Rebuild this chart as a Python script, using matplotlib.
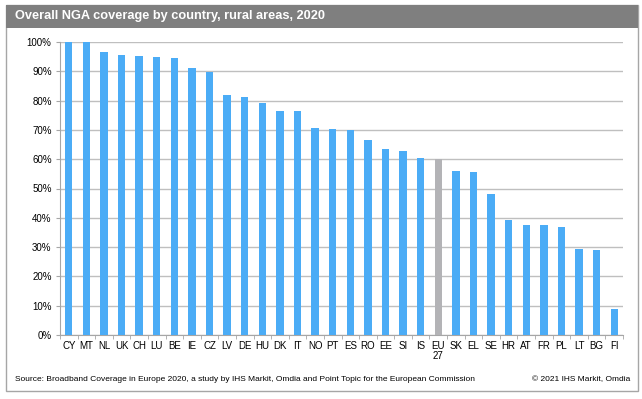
import matplotlib.pyplot as plt
from matplotlib.patches import Rectangle
import numpy as np

plt.rcParams['font.family'] = ['Liberation Sans', 'DejaVu Sans']

# 국가별 농촌지역 NGA 커버리지 (%)
countries = ['CY', 'MT', 'NL', 'UK', 'CH', 'LU', 'BE', 'IE', 'CZ', 'LV', 'DE', 'HU', 'DK', 'IT',
             'NO', 'PT', 'ES', 'RO', 'EE', 'SI', 'IS', 'EU\n27', 'SK', 'EL', 'SE', 'HR', 'AT',
             'FR', 'PL', 'LT', 'BG', 'FI']
coverage = [100.0, 100.0, 96.7, 95.6, 95.3, 94.9, 94.7, 91.0, 89.9, 82.0, 81.1, 79.3, 76.3, 76.3,
            70.5, 70.2, 70.0, 66.5, 63.4, 62.7, 60.5, 59.9, 56.0, 55.5, 48.2, 39.1, 37.6,
            37.4, 36.9, 29.4, 29.1, 9.0]
yticks = list(range(0, 101, 10))

blue = '#4BACF6'
grey = '#B3B3B6'
colors = [grey if c.startswith('EU') else blue for c in countries]

fig = plt.figure(figsize=(6.42, 3.99), dpi=100)

# 바깥 테두리와 제목 띠
fig.patches.append(Rectangle((6/642, 1-391/399), 632/642, 386/399, transform=fig.transFigure,
                             facecolor='none', edgecolor='#A6A6A6', lw=1.0, zorder=0))
fig.patches.append(Rectangle((6/642, 1-28/399), 632/642, 23/399, transform=fig.transFigure,
                             facecolor='#7F7F7F', edgecolor='none', zorder=1))
fig.text(15/642, 1-16.5/399, 'Overall NGA coverage by country, rural areas, 2020',
         color='white', fontsize=9.2, fontweight='bold', va='center', ha='left')

ax = fig.add_axes([60/642, 1-335/399, 563/642, 293/399])
ax.set_zorder(3)
ax.patch.set_visible(False)
x = np.arange(len(countries))
ax.bar(x, coverage, width=0.42, color=colors, zorder=3)
ax.set_xlim(-0.5, len(countries) - 0.5)
ax.set_ylim(0, 100)
ax.set_yticks(yticks)
ax.set_yticklabels([f'{v}%' for v in yticks], fontsize=7)
ax.set_xticks(x)
ax.set_xticklabels(countries, fontsize=7, linespacing=1.1)
ax.tick_params(axis='x', length=0, pad=4)
ax.tick_params(axis='y', length=3, color='#A6A6A6', pad=3)
# 카테고리 사이 눈금
ax.set_xticks(np.arange(-0.5, len(countries), 1), minor=True)
ax.tick_params(axis='x', which='minor', length=3, color='#A6A6A6')
ax.grid(axis='y', color='#BFBFBF', lw=1.0, zorder=0)
for s in ['top', 'right']:
    ax.spines[s].set_visible(False)
for s in ['left', 'bottom']:
    ax.spines[s].set_color('#A6A6A6')

fig.text(15/642, 1-381/399,
         'Source: Broadband Coverage in Europe 2020, a study by IHS Markit, Omdia and Point Topic for the European Commission',
         fontsize=6.0, va='baseline', ha='left')
fig.text(630/642, 1-381/399, '\u00a9 2021 IHS Markit, Omdia', fontsize=6.0, va='baseline', ha='right')

fig.savefig('out.png', dpi=100)
